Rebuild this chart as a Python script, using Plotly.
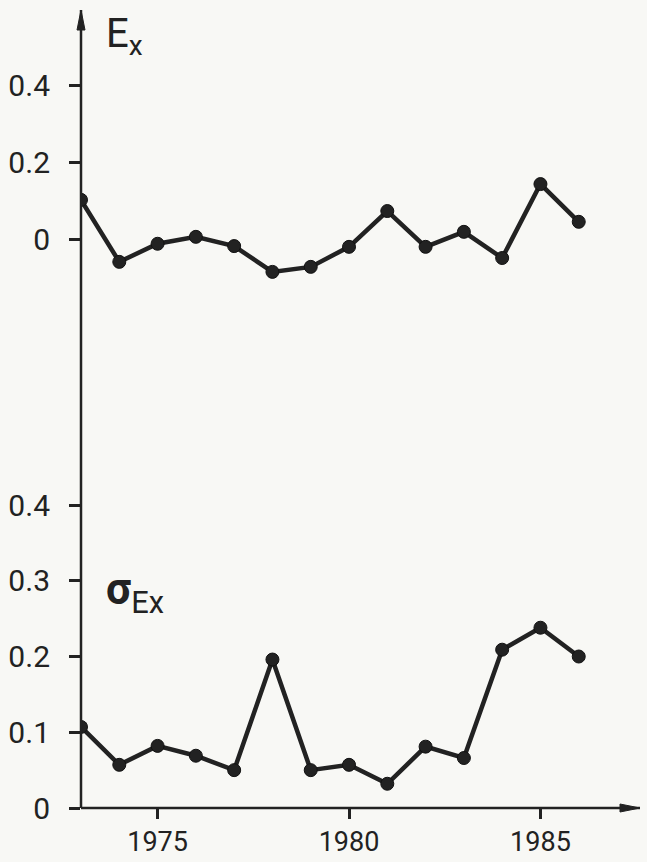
import plotly.graph_objects as go

years = list(range(1973, 1987))
ex_values = [0.104, -0.057, -0.010, 0.008, -0.016, -0.083, -0.070,
             -0.018, 0.075, -0.018, 0.021, -0.047, 0.145, 0.047]
sigma_values = [0.107, 0.057, 0.082, 0.069, 0.050, 0.196, 0.050,
                0.057, 0.032, 0.081, 0.066, 0.209, 0.238, 0.200]

top_ticks = [0, 0.2, 0.4]
top_ticklabels = ["0", "0.2", "0.4"]
bottom_ticks = [0, 0.1, 0.2, 0.3, 0.4]
bottom_ticklabels = ["0", "0.1", "0.2", "0.3", "0.4"]
x_ticks = [1975, 1980, 1985]

INK = "#222222"
FONT = "Roboto, Liberation Sans, DejaVu Sans, sans-serif"

W, H = 647, 862
ML, MR, MT, MB = 81, 7, 10, 54
plot_h = H - MT - MB  # 798

fig = go.Figure()
line_style = dict(color=INK, width=4.5)
marker_style = dict(color=INK, size=13, line=dict(color="#111", width=1))
fig.add_trace(go.Scatter(x=years, y=ex_values, mode="lines+markers",
                         line=line_style, marker=marker_style,
                         xaxis="x", yaxis="y", showlegend=False))
fig.add_trace(go.Scatter(x=years, y=sigma_values, mode="lines+markers",
                         line=line_style, marker=marker_style,
                         xaxis="x", yaxis="y2", showlegend=False))

axis_common = dict(showgrid=False, zeroline=False, showline=False,
                   automargin=False,
                   ticks="outside", tickwidth=2.5, tickcolor=INK)

fig.update_layout(
    width=W, height=H,
    margin=dict(l=ML, r=MR, t=MT, b=MB),
    paper_bgcolor="#f8f8f5", plot_bgcolor="#f8f8f5",
    xaxis=dict(range=[1973, 1987.6], anchor="y2", tickvals=x_ticks,
               ticklen=10, ticklabelstandoff=0,
               tickfont=dict(family=FONT, size=27, color=INK), **axis_common),
    yaxis=dict(domain=[0.6366, 1.0], range=[-0.156, 0.597], anchor="x",
               tickvals=top_ticks, ticktext=top_ticklabels,
               ticklen=11, ticklabelstandoff=13,
               tickfont=dict(family=FONT, size=30, color=INK), **axis_common),
    yaxis2=dict(domain=[0.0, 0.411], range=[0, 0.433], anchor="x",
                tickvals=bottom_ticks, ticktext=bottom_ticklabels,
                ticklen=11, ticklabelstandoff=13,
                tickfont=dict(family=FONT, size=30, color=INK), **axis_common),
)

# axis lines
fig.add_shape(type="line", xref="paper", yref="paper", x0=0, x1=0, y0=0, y1=1,
              line=dict(color=INK, width=2.5))
fig.add_shape(type="line", xref="paper", yref="paper", x0=0, x1=1, y0=0, y1=0,
              line=dict(color=INK, width=2.5))
# arrowheads (pixel-sized paths anchored at axis ends)
fig.add_shape(type="path", xref="paper", yref="paper",
              xsizemode="pixel", ysizemode="pixel", xanchor=0, yanchor=1,
              path="M -4,-20 L 0,0 L 4,-20 Z",
              fillcolor=INK, line=dict(color=INK, width=1))
fig.add_shape(type="path", xref="paper", yref="paper",
              xsizemode="pixel", ysizemode="pixel", xanchor=1, yanchor=0,
              path="M -20,-4 L 0,0 L -20,4 Z",
              fillcolor=INK, line=dict(color=INK, width=1))

# panel labels
fig.add_annotation(xref="paper", yref="paper", x=(104 - ML) / (W - ML - MR),
                   y=(H - MB - 36) / plot_h, xanchor="left", yanchor="middle",
                   text="E<sub>x</sub>", showarrow=False,
                   font=dict(family=FONT, size=40, color=INK))
fig.add_annotation(xref="paper", yref="paper", x=(104 - ML) / (W - ML - MR),
                   y=(H - MB - 592) / plot_h, xanchor="left", yanchor="middle",
                   text="<b>σ</b><sub>Ex</sub>", showarrow=False,
                   font=dict(family=FONT, size=44, color=INK))

fig.write_html("out.html", config={"displayModeBar": False},
               post_script="document.body.style.margin='0';"
                           "document.body.style.background='#f8f8f5';")
